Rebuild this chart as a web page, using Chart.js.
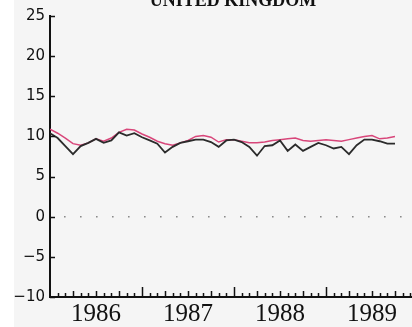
<!DOCTYPE html>
<html>
<head>
<meta charset="utf-8">
<script src="https://cdn.jsdelivr.net/npm/chart.js@4.4.0/dist/chart.umd.min.js"></script>
<style>
  html, body { margin: 0; padding: 0; background: #ffffff; }
  #wrap { position: relative; width: 412px; height: 327px; }
</style>
</head>
<body>
<div id="wrap"><canvas id="c" width="412" height="327"></canvas></div>
<script>
// ---- data (monthly, starting January 1986) ----
const title = 'UNITED KINGDOM';
const startYear = 1986;
const yearLabels = ['1986', '1987', '1988', '1989'];
const yTickValues = [-10, -5, 0, 5, 10, 15, 20, 25];

const blackSeries = [
  10.4, 9.8, 8.8, 7.8, 8.8, 9.2, 9.7, 9.2, 9.5, 10.5, 10.1, 10.4,
  9.9, 9.5, 9.1, 8.0, 8.7, 9.2, 9.4, 9.6, 9.6, 9.3, 8.7, 9.5,
  9.6, 9.3, 8.7, 7.6, 8.8, 8.9, 9.5, 8.2, 9.0, 8.2, 8.7, 9.2,
  8.9, 8.5, 8.7, 7.8, 8.9, 9.6, 9.6, 9.4, 9.1, 9.1
];
const redSeries = [
  10.9, 10.4, 9.8, 9.1, 8.9, 9.2, 9.7, 9.4, 9.8, 10.5, 10.9, 10.8,
  10.3, 9.9, 9.4, 9.1, 8.9, 9.2, 9.5, 10.0, 10.1, 9.9, 9.3, 9.6,
  9.6, 9.4, 9.2, 9.2, 9.3, 9.5, 9.6, 9.7, 9.8, 9.5, 9.4, 9.5,
  9.6, 9.5, 9.4, 9.6, 9.8, 10.0, 10.1, 9.7, 9.8, 10.0
];

const toPoints = arr => arr.map((v, i) => ({ x: startYear + i / 12, y: v }));
const xMax = startYear + 362 / 92;

const decorPlugin = {
  id: 'decor',
  beforeDraw(chart) {
    const ctx = chart.ctx;
    ctx.save();
    ctx.fillStyle = '#f5f5f5';
    ctx.fillRect(0, 0, chart.width, chart.height);
    ctx.fillStyle = '#ffffff';
    ctx.fillRect(0, 0, 14, chart.height);
    ctx.restore();
  },
  afterDraw(chart) {
    const ctx = chart.ctx;
    const xs = chart.scales.x, ys = chart.scales.y;
    const bottom = ys.getPixelForValue(ys.min);
    const left = xs.getPixelForValue(xs.min);
    ctx.save();
    ctx.strokeStyle = '#111';
    ctx.lineWidth = 1.5;
    yTickValues.forEach(v => {
      const py = Math.round(ys.getPixelForValue(v)) + 0.5;
      ctx.beginPath();
      ctx.moveTo(left, py);
      ctx.lineTo(left + 5, py);
      ctx.stroke();
    });
    for (let m = 1; startYear + m / 12 <= xs.max + 1e-6; m++) {
      const px = Math.round(xs.getPixelForValue(startYear + m / 12)) + 0.5;
      const len = m % 12 === 0 ? 10 : (m % 3 === 0 ? 6 : 4);
      ctx.beginPath();
      ctx.moveTo(px, bottom);
      ctx.lineTo(px, bottom - len);
      ctx.stroke();
    }
    ctx.fillStyle = '#111';
    ctx.font = 'bold 18px "Liberation Serif", serif';
    ctx.textAlign = 'center';
    ctx.textBaseline = 'alphabetic';
    ctx.fillText(title, 233, 6);
    ctx.restore();
  }
};

new Chart(document.getElementById('c'), {
  type: 'line',
  data: {
    datasets: [
      {
        label: 'zero',
        data: [{ x: startYear, y: 0 }, { x: xMax, y: 0 }],
        borderColor: '#8a8a8a',
        borderWidth: 1.6,
        borderDash: [1.6, 14.4],
        borderDashOffset: -14,
        pointRadius: 0,
        tension: 0
      },
      {
        label: 'series 1',
        data: toPoints(blackSeries),
        borderColor: '#2b2b2b',
        borderWidth: 1.8,
        pointRadius: 0,
        tension: 0
      },
      {
        label: 'series 2',
        data: toPoints(redSeries),
        borderColor: '#d8467a',
        borderWidth: 1.5,
        pointRadius: 0,
        tension: 0
      }
    ]
  },
  options: {
    responsive: false,
    animation: false,
    events: [],
    layout: { padding: { top: 16, left: 0, right: 0, bottom: 0 } },
    plugins: { legend: { display: false }, tooltip: { enabled: false }, title: { display: false } },
    scales: {
      x: {
        type: 'linear',
        min: startYear,
        max: xMax,
        grid: { display: false, drawTicks: false },
        border: { display: true, color: '#111', width: 2 },
        afterBuildTicks: s => { s.ticks = yearLabels.map((y, i) => ({ value: startYear + i + 0.5 })); },
        afterFit: s => { s.height = 30; },
        ticks: {
          autoSkip: false,
          maxRotation: 0,
          padding: 2,
          color: '#111',
          font: { family: '"Liberation Serif", serif', size: 25 },
          callback: (v, i) => yearLabels[i]
        }
      },
      y: {
        min: -10,
        max: 25,
        grid: { display: false, drawTicks: false },
        border: { display: true, color: '#111', width: 2 },
        afterBuildTicks: s => { s.ticks = yTickValues.map(v => ({ value: v })); },
        afterFit: s => { s.width = 50; },
        ticks: {
          padding: 5,
          color: '#111',
          font: { family: '"DejaVu Sans", sans-serif', size: 15 },
          callback: v => (v < 0 ? '\u2212' + Math.abs(v) : String(v))
        }
      }
    }
  },
  plugins: [decorPlugin]
});
</script>
</body>
</html>
